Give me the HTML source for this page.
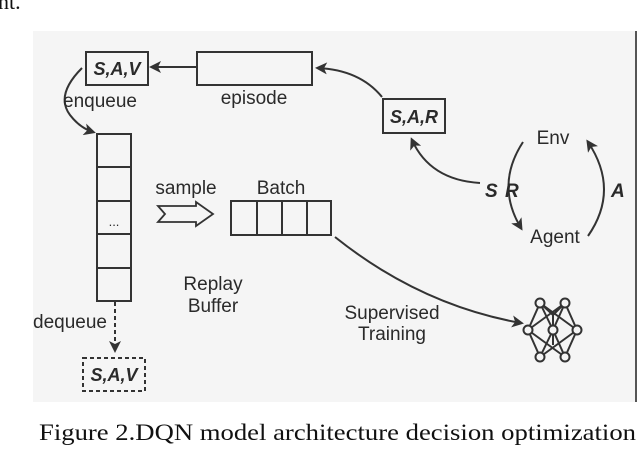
<!DOCTYPE html>
<html><head><meta charset="utf-8"><style>
html,body{margin:0;padding:0;background:#fff;width:640px;height:450px;overflow:hidden}
svg{display:block}
text{font-family:"Liberation Sans",sans-serif;fill:#2a2a2a}
</style></head><body>
<svg width="640" height="450" viewBox="0 0 640 450" xmlns="http://www.w3.org/2000/svg">
<defs>
<marker id="ah" markerWidth="12" markerHeight="12" refX="9" refY="6" orient="auto" markerUnits="userSpaceOnUse">
<path d="M0,0 L12,6 L0,12 L3,6 Z" fill="#333"/>
</marker>
</defs>
<text x="-2" y="9" style="font-family:'Liberation Serif',serif;font-size:22px;fill:#111">nt.</text>
<rect x="33" y="31" width="603" height="371" fill="#f5f5f5"/>
<rect x="635" y="31" width="2" height="371" fill="#555"/>
<g stroke="#333" stroke-width="2" fill="none">
<rect x="86" y="52" width="62" height="33"/>
<rect x="197" y="52" width="115" height="33"/>
<rect x="383" y="99" width="62" height="34"/>
<line x1="197" y1="67" x2="152" y2="67" marker-end="url(#ah)"/>
<path d="M382,97 Q360,70 318,68" marker-end="url(#ah)"/>
<path d="M82,68 Q55,95 70,115 Q80,128 93,132" marker-end="url(#ah)"/>
<rect x="97" y="134" width="34" height="167"/>
<line x1="97" y1="167" x2="131" y2="167"/>
<line x1="97" y1="201" x2="131" y2="201"/>
<line x1="97" y1="234" x2="131" y2="234"/>
<line x1="97" y1="268" x2="131" y2="268"/>
<line x1="115" y1="302" x2="115" y2="350" stroke-dasharray="4,3" marker-end="url(#ah)"/>
<rect x="83" y="358" width="62" height="33" stroke-dasharray="4,3"/>
<path d="M158,206 L196,206 L196,202 L213,214 L196,226 L196,222 L158,222 L165,214 Z" stroke-width="1.8"/>
<rect x="231" y="201" width="100" height="34"/>
<line x1="257" y1="201" x2="257" y2="235"/>
<line x1="282" y1="201" x2="282" y2="235"/>
<line x1="307" y1="201" x2="307" y2="235"/>
<path d="M335,237 Q420,305 521,323" marker-end="url(#ah)"/>
<path d="M480,183 Q430,180 412,140" marker-end="url(#ah)"/>
<path d="M523,142 Q495,185 521,228" marker-end="url(#ah)"/>
<path d="M588,236 Q620,190 588,142" marker-end="url(#ah)"/>
</g>
<g stroke="#333" stroke-width="2" fill="none">
<path d="M540,303 L528,330 M540,303 L553,330 M540,303 L577,330 M565,303 L528,330 M565,303 L553,330 M565,303 L577,330 M528,330 L540,357 M528,330 L565,357 M553,330 L540,357 M553,330 L565,357 M577,330 L540,357 M577,330 L565,357 M540,303 L553,315 M565,303 L553,315 M553,315 L553,345"/>
<g fill="#f5f5f5">
<circle cx="540" cy="303" r="4.5"/><circle cx="565" cy="303" r="4.5"/>
<circle cx="528" cy="330" r="4.5"/><circle cx="553" cy="330" r="4.5"/><circle cx="577" cy="330" r="4.5"/>
<circle cx="540" cy="357" r="4.5"/><circle cx="565" cy="357" r="4.5"/>
</g>
</g>
<g font-size="19">
<text x="117" y="75" text-anchor="middle" font-weight="bold" font-style="italic" font-size="18">S,A,V</text>
<text x="114" y="381" text-anchor="middle" font-weight="bold" font-style="italic" font-size="18">S,A,V</text>
<text x="414" y="123" text-anchor="middle" font-weight="bold" font-style="italic" font-size="18">S,A,R</text>
<text x="254" y="104" text-anchor="middle">episode</text>
<text x="63" y="107">enqueue</text>
<text x="33" y="328">dequeue</text>
<text x="114" y="226" text-anchor="middle" font-size="13">...</text>
<text x="186" y="194" text-anchor="middle">sample</text>
<text x="281" y="194" text-anchor="middle">Batch</text>
<text x="213" y="290" text-anchor="middle">Replay</text>
<text x="213" y="312" text-anchor="middle">Buffer</text>
<text x="392" y="319" text-anchor="middle">Supervised</text>
<text x="392" y="340" text-anchor="middle">Training</text>
<text x="553" y="144" text-anchor="middle">Env</text>
<text x="555" y="243" text-anchor="middle">Agent</text>
<text x="485" y="197" font-weight="bold" font-style="italic">S</text>
<text x="505" y="197" font-weight="bold" font-style="italic">R</text>
<text x="611" y="197" font-weight="bold" font-style="italic">A</text>
</g>
<text x="39" y="440" textLength="597" lengthAdjust="spacingAndGlyphs" style="font-family:'Liberation Serif',serif;font-size:23px;fill:#111">Figure 2.DQN model architecture decision optimization</text>
</svg>
</body></html>
